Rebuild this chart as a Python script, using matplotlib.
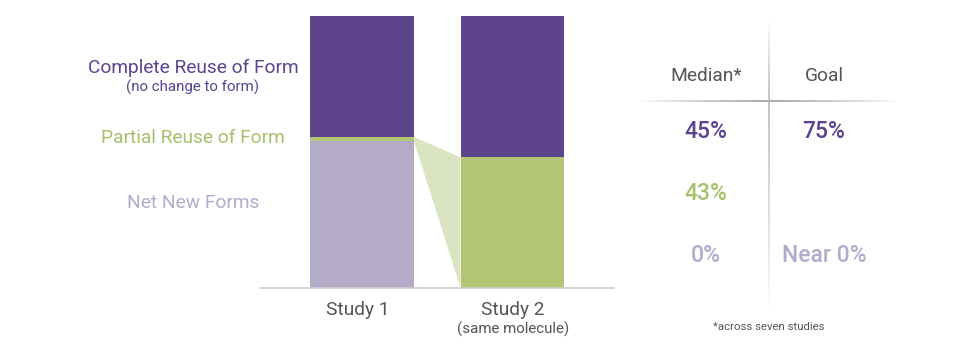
import numpy as np
import matplotlib
matplotlib.use("Agg")
import matplotlib.pyplot as plt
from matplotlib.patches import Polygon
from matplotlib.collections import LineCollection

plt.rcParams['font.family'] = ['Roboto', 'DejaVu Sans']

# data
studies = ["Study 1", "Study 2"]
net_new = [54.0, 0.0]
partial = [1.5, 48.0]
complete = [44.5, 52.0]

table_cols = ["Median*", "Goal"]
median_vals = ["45%", "43%", "0%"]
goal_vals = ["75%", "", "Near 0%"]

PURPLE = "#5e448b"
GREEN = "#b3c575"
LAVENDER = "#b4abc6"
WEDGE = "#dbe4c0"
TXT_PURPLE = "#5a4490"
TXT_GREEN = "#a8bf6c"
TXT_LAV = "#b3abcb"
TXT_GRAY = "#555555"

W, H = 979, 356
fig = plt.figure(figsize=(W / 100, H / 100), dpi=100)


def px(x, y):
    return x / W, 1 - y / H


ax = fig.add_axes([260 / W, (H - 288) / H, 354 / W, 272 / H])
x = np.arange(len(studies))
bw = 0.69
ax.bar(x, net_new, bw, color=LAVENDER, zorder=2)
ax.bar(x, partial, bw, bottom=net_new, color=GREEN, zorder=2)
bottom2 = np.array(net_new) + np.array(partial)
ax.bar(x, complete, bw, bottom=bottom2, color=PURPLE, zorder=2)

# wedge from study 1 partial band to study 2 partial block
x1 = x[0] + bw / 2
x2 = x[1] - bw / 2
wedge = Polygon([(x1, net_new[0] + partial[0]), (x2, net_new[1] + partial[1]),
                 (x2, net_new[1]), (x1, net_new[0])],
                closed=True, facecolor=WEDGE, edgecolor='none', zorder=1)
ax.add_patch(wedge)

ax.set_xlim(-0.678, 1.674)
ax.set_ylim(0, 100)
for s in ["top", "right", "left"]:
    ax.spines[s].set_visible(False)
ax.spines["bottom"].set_color("#cccccc")
ax.spines["bottom"].set_linewidth(1.2)
ax.set_yticks([])
ax.set_xticks([])
ax.patch.set_alpha(0)

BIG = 13.8
SMALL = 10.9

# study labels
fig.text(*px(358, 310), studies[0], ha='center', va='center', fontsize=BIG, color=TXT_GRAY)
fig.text(*px(513, 310), studies[1], ha='center', va='center', fontsize=BIG, color=TXT_GRAY)
fig.text(*px(513, 329), "(same molecule)", ha='center', va='center', fontsize=SMALL, color=TXT_GRAY)

# category labels
fig.text(*px(193, 68), "Complete Reuse of Form", ha='center', va='center', fontsize=BIG, color=TXT_PURPLE)
fig.text(*px(193, 87), "(no change to form)", ha='center', va='center', fontsize=SMALL, color=TXT_PURPLE)
fig.text(*px(193, 138), "Partial Reuse of Form", ha='center', va='center', fontsize=BIG, color=TXT_GREEN)
fig.text(*px(193, 203), "Net New Forms", ha='center', va='center', fontsize=BIG, color=TXT_LAV)

# table lines with faded ends
def faded_line(p0, p1, peak, n=120, color=(0.6, 0.6, 0.6), lw=1.2):
    t = np.linspace(0, 1, n + 1)
    xs = p0[0] + (p1[0] - p0[0]) * t
    ys = p0[1] + (p1[1] - p0[1]) * t
    segs = [[(xs[i], ys[i]), (xs[i + 1], ys[i + 1])] for i in range(n)]
    tm = (t[:-1] + t[1:]) / 2
    a = np.where(tm < peak, tm / peak, (1 - tm) / (1 - peak))
    a = np.clip(a, 0, 1) ** 0.8
    cols = [(*color, ai) for ai in a]
    lc = LineCollection(segs, colors=cols, linewidths=lw, transform=fig.transFigure)
    fig.add_artist(lc)

faded_line(px(640, 101), px(898, 101), (769 - 640) / (898 - 640))
faded_line(px(769, 20), px(769, 310), (101 - 20) / (310 - 20), color=(0.72, 0.72, 0.72))

col_x = [706, 824]
for cx, name in zip(col_x, table_cols):
    fig.text(*px(cx, 76), name, ha='center', va='center', fontsize=BIG, color=TXT_GRAY)

row_y = [132, 194, 255]
row_colors = [TXT_PURPLE, TXT_GREEN, TXT_LAV]
for ry, rc, mv, gv in zip(row_y, row_colors, median_vals, goal_vals):
    fig.text(*px(col_x[0], ry), mv, ha='center', va='center', fontsize=16.5, color=rc, fontweight='medium')
    if gv:
        fig.text(*px(col_x[1], ry), gv, ha='center', va='center', fontsize=16.5, color=rc, fontweight='medium')

fig.text(*px(769, 327), "*across seven studies", ha='center', va='center', fontsize=8.2, color=TXT_GRAY)

fig.savefig("out.png", dpi=100)
